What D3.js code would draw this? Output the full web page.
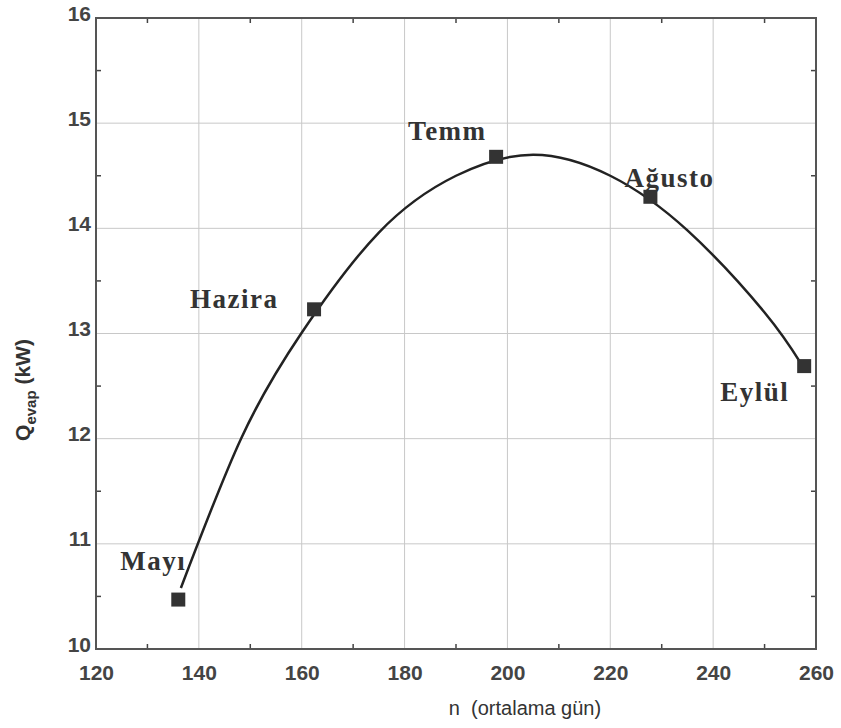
<!DOCTYPE html>
<html>
<head>
<meta charset="utf-8">
<script src="https://cdn.jsdelivr.net/npm/d3@7"></script>
<style>
  body { margin: 0; background: #fff; }
  .tick text { font-family: "Liberation Sans", Arial, sans-serif; font-weight: bold; fill: #444; }
</style>
</head>
<body>
<div id="chart"></div>
<script>
// monthly points
var months = ["Mayı", "Hazira", "Temm", "Ağusto", "Eylül"];
var monthDay = [136, 162.4, 197.8, 227.8, 257.7];
var monthQ = [10.47, 13.23, 14.68, 14.30, 12.69];

// fitted curve
var curveDay = [136.5, 148.2, 159.9, 175, 190, 205, 220, 235, 250, 257];
var curveQ = [10.58, 12.0, 13.0, 13.96, 14.5, 14.70, 14.50, 13.98, 13.2, 12.72];

var xTicks = [120, 140, 160, 180, 200, 220, 240, 260];
var yTicks = [10, 11, 12, 13, 14, 15, 16];

// label anchors (left, baseline) offsets in px from the marker
var labelDx = [-58, -124, -88, -26, -84];
var labelDy = [-30, -1, -17, -10, 35];

var W = 841, H = 728;
var margin = {top: 18, right: 25, bottom: 79, left: 96};
var width = W - margin.left - margin.right,
    height = H - margin.top - margin.bottom;

var svg = d3.select("#chart").append("svg")
    .attr("width", W).attr("height", H);
var g = svg.append("g").attr("transform", "translate(" + margin.left + "," + margin.top + ")");

var x = d3.scaleLinear().domain([120, 260]).range([0, width]);
var y = d3.scaleLinear().domain([10, 16]).range([height, 0]);

// grid
g.append("g").selectAll("line").data(xTicks).enter().append("line")
    .attr("x1", d => x(d)).attr("x2", d => x(d))
    .attr("y1", 0).attr("y2", height)
    .attr("stroke", "#c8c8c8").attr("stroke-width", 1);
g.append("g").selectAll("line").data(yTicks).enter().append("line")
    .attr("y1", d => y(d)).attr("y2", d => y(d))
    .attr("x1", 0).attr("x2", width)
    .attr("stroke", "#c8c8c8").attr("stroke-width", 1);

// minor ticks (inside) on all four sides
var xMinor = d3.range(130, 260, 20);
var yMinor = d3.range(10.5, 16, 1);
var minor = g.append("g").attr("stroke", "#444").attr("stroke-width", 1.5);
xMinor.forEach(function(v) {
  minor.append("line").attr("x1", x(v)).attr("x2", x(v)).attr("y1", height).attr("y2", height - 5);
  minor.append("line").attr("x1", x(v)).attr("x2", x(v)).attr("y1", 0).attr("y2", 5);
});
yMinor.forEach(function(v) {
  minor.append("line").attr("y1", y(v)).attr("y2", y(v)).attr("x1", 0).attr("x2", 5);
  minor.append("line").attr("y1", y(v)).attr("y2", y(v)).attr("x1", width).attr("x2", width - 5);
});

// axes
var xAxis = g.append("g").attr("transform", "translate(0," + height + ")")
    .call(d3.axisBottom(x).tickValues(xTicks).tickFormat(d3.format("d")).tickSize(0).tickPadding(16));
xAxis.selectAll("text").attr("font-size", 21);
xAxis.select(".domain").remove();

var yAxis = g.append("g")
    .call(d3.axisLeft(y).tickValues(yTicks).tickFormat(d3.format("d")).tickSize(0).tickPadding(5));
yAxis.selectAll("text").attr("font-size", 21).attr("dy", "0.1em");
yAxis.select(".domain").remove();

// frame
g.append("rect").attr("width", width).attr("height", height)
    .attr("fill", "none").attr("stroke", "#555").attr("stroke-width", 2);

// curve
var pts = curveDay.map(function(d, i) { return [d, curveQ[i]]; });
var line = d3.line().x(d => x(d[0])).y(d => y(d[1])).curve(d3.curveNatural);
g.append("path").datum(pts).attr("d", line)
    .attr("fill", "none").attr("stroke", "#222").attr("stroke-width", 2.5);

// markers
var s = 14;
g.selectAll(".pt").data(months).enter().append("rect")
    .attr("class", "pt")
    .attr("x", (d, i) => x(monthDay[i]) - s / 2)
    .attr("y", (d, i) => y(monthQ[i]) - s / 2)
    .attr("width", s).attr("height", s)
    .attr("fill", "#333");

// month labels
g.selectAll(".lbl").data(months).enter().append("text")
    .attr("class", "lbl")
    .attr("x", (d, i) => x(monthDay[i]) + labelDx[i])
    .attr("y", (d, i) => y(monthQ[i]) + labelDy[i])
    .attr("font-family", "'Liberation Serif', 'Times New Roman', serif")
    .attr("font-weight", "bold")
    .attr("font-size", 27)
    .attr("letter-spacing", 1.5)
    .attr("fill", "#333")
    .text(d => d);

// axis titles
svg.append("text")
    .attr("x", 525).attr("y", 715)
    .attr("text-anchor", "middle")
    .attr("font-family", "'Liberation Sans', Arial, sans-serif")
    .attr("font-size", 20).attr("fill", "#333")
    .text("n\u00a0\u00a0(ortalama gün)");

var yt = svg.append("text")
    .attr("transform", "translate(30,390) rotate(-90)")
    .attr("text-anchor", "middle")
    .attr("font-family", "'Liberation Sans', Arial, sans-serif")
    .attr("font-weight", "bold")
    .attr("font-size", 21).attr("fill", "#333");
yt.append("tspan").text("Q");
yt.append("tspan").attr("font-size", 15).attr("dy", 6).text("evap");
yt.append("tspan").attr("dy", -6).text(" (kW)");
</script>
</body>
</html>
